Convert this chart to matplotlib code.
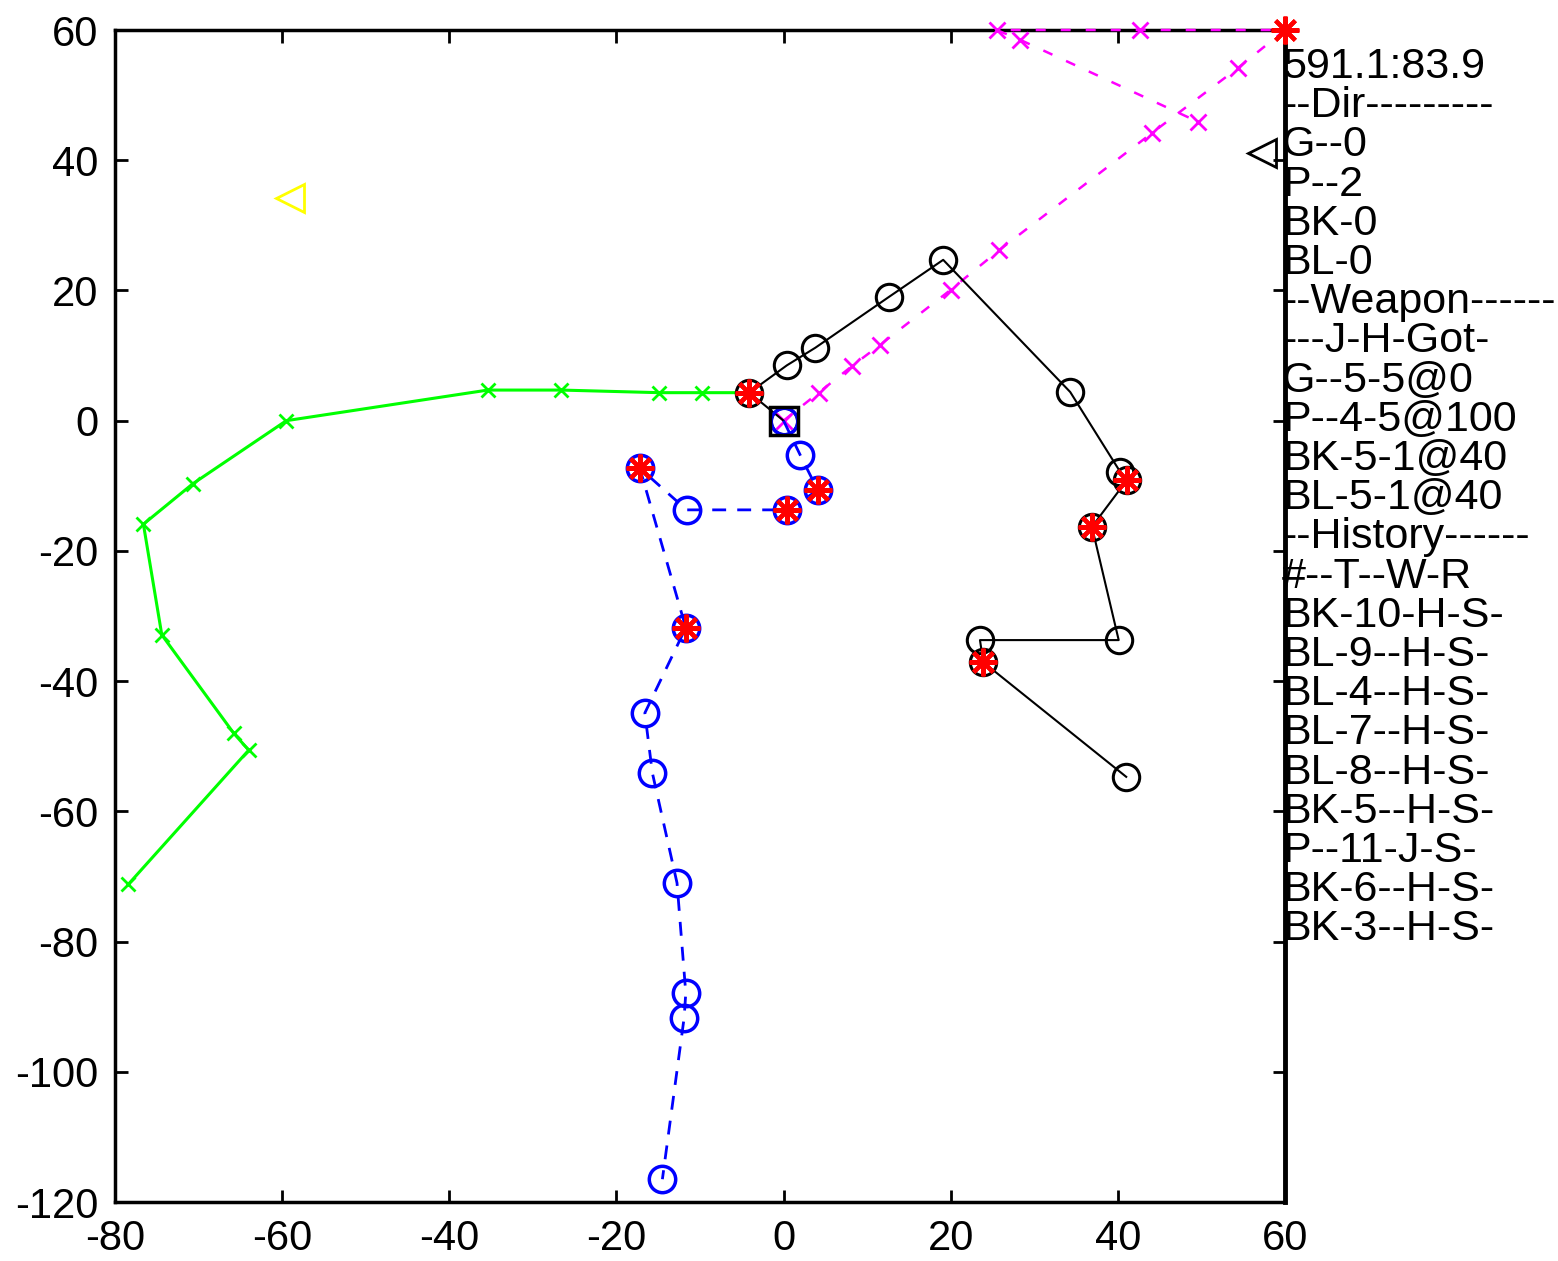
import matplotlib
matplotlib.use("Agg")
import matplotlib.pyplot as plt

plt.rcParams['font.family'] = ['Liberation Sans', 'DejaVu Sans']
plt.rcParams['axes.unicode_minus'] = False

# ---- data ----
green_x = [-78.4, -64.0, -65.8, -74.4, -76.6, -70.7, -59.5, -35.4, -26.6, -14.9, -9.8, -4.1]
green_y = [-71.2, -50.6, -48.0, -32.9, -15.9, -9.7, 0.0, 4.7, 4.7, 4.3, 4.3, 4.3]

magenta_x = [0.0, 4.2, 8.2, 11.5, 20.0, 25.8, 44.1, 54.4, 60.0, 42.6, 25.5, 28.3, 49.6]
magenta_y = [0.0, 4.3, 8.4, 11.6, 20.1, 26.2, 44.2, 54.2, 60.0, 60.0, 60.0, 58.5, 45.9]

black_x = [0.0, -4.1, 0.4, 3.8, 12.6, 19.1, 34.3, 40.3, 41.1, 36.9, 40.1, 23.5, 23.9, 41.0]
black_y = [0.0, 4.3, 8.5, 11.2, 19.0, 24.7, 4.4, -7.9, -9.1, -16.3, -33.7, -33.7, -37.1, -54.7]

blue_x = [0.0, 2.0, 4.1, 0.4, -11.6, -17.2, -11.7, -16.6, -15.7, -12.75, -11.7, -11.9, -14.5]
blue_y = [0.0, -5.3, -10.7, -13.7, -13.7, -7.3, -31.8, -44.9, -54.1, -71.0, -87.9, -91.7, -116.5]

hit_x = [-4.1, 4.1, 0.4, -17.2, -11.7, 41.1, 36.9, 23.9, 60.0]
hit_y = [4.3, -10.7, -13.7, -7.3, -31.8, -9.1, -16.3, -37.1, 60.0]

yellow_tri = (-59.1, 34.2)
black_tri = (57.3, 41.1)
origin_sq = (0.0, 0.0)

info_lines = ["591.1:83.9", "--Dir---------", "G--0", "P--2", "BK-0", "BL-0",
              "--Weapon------", "---J-H-Got-", "G--5-5@0", "P--4-5@100",
              "BK-5-1@40", "BL-5-1@40", "--History------", "#--T--W-R",
              "BK-10-H-S-", "BL-9--H-S-", "BL-4--H-S-", "BL-7--H-S-",
              "BL-8--H-S-", "BK-5--H-S-", "P--11-J-S-", "BK-6--H-S-", "BK-3--H-S-"]

xticks = [-80, -60, -40, -20, 0, 20, 40, 60]
yticks = [-120, -100, -80, -60, -40, -20, 0, 20, 40, 60]

# ---- figure ----
W, H = 1558, 1261
fig = plt.figure(figsize=(W / 100, H / 100), dpi=100)
ax = fig.add_axes([115 / W, 1 - 1202 / H, (1285 - 115) / W, (1202 - 30) / H])

ax.plot(green_x, green_y, color='#00ff00', lw=2.2, marker='x', ms=10, mew=2, clip_on=False, zorder=3)
ax.plot(magenta_x, magenta_y, color='#ff00ff', lw=1.8, ls=(0, (4, 6)), marker='x', ms=11, mew=2, clip_on=False, zorder=3)
ax.plot(black_x, black_y, color='black', lw=1.5, marker='o', ms=19, mfc='none', mew=2.2, clip_on=False, zorder=4)
ax.plot(blue_x, blue_y, color='#0000ff', lw=2, ls=(0, (5, 4)), marker='o', ms=19, mfc='none', mew=2.5, clip_on=False, zorder=4)
ax.plot(hit_x, hit_y, ls='none', color='#ff0000', marker=(8, 2, 0), ms=20, mew=3, clip_on=False, zorder=6)
ax.plot([yellow_tri[0]], [yellow_tri[1]], ls='none', marker='<', ms=20, mfc='none', mec='#ffff00', mew=2, clip_on=False, zorder=5)
ax.plot([black_tri[0]], [black_tri[1]], ls='none', marker='<', ms=20, mfc='none', mec='black', mew=2, clip_on=False, zorder=5)
ax.plot([origin_sq[0]], [origin_sq[1]], ls='none', marker='s', ms=20, mfc='none', mec='black', mew=2.5, clip_on=False, zorder=5)

ax.set_xlim(-80, 60)
ax.set_ylim(-120, 60)
ax.set_xticks(xticks)
ax.set_yticks(yticks)
ax.set_xticklabels([str(v) for v in xticks])
ax.set_yticklabels([str(v) for v in yticks])
ax.tick_params(direction='in', length=9, width=2, labelsize=30, top=True, right=True)
ax.tick_params(axis='x', pad=12)
ax.tick_params(axis='y', pad=12)
for s in ax.spines.values():
    s.set_linewidth(2.5)
ax.spines['right'].set_linewidth(3.5)

for i, t in enumerate(info_lines):
    ypx = 67 + 39.2 * i
    fig.text(1282 / W, 1 - ypx / H, t, ha='left', va='center', fontsize=31, color='black')

fig.savefig('out.png', dpi=100)
